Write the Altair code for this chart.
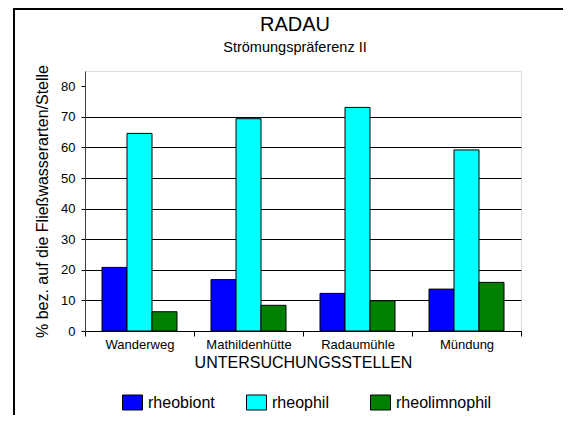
import altair as alt
import pandas as pd

sites = ["Wanderweg", "Mathildenhütte", "Radaumühle", "Mündung"]
groups = ["rheobiont", "rheophil", "rheolimnophil"]
rheobiont = [20.8, 16.8, 12.3, 13.7]
rheophil = [64.6, 69.4, 73.1, 59.2]
rheolimnophil = [6.3, 8.4, 9.9, 15.9]
colors = ["#0000FF", "#00FFFF", "#008000"]
y_ticks = [0, 10, 20, 30, 40, 50, 60, 70, 80]
title_text = "RADAU"
subtitle_text = "Strömungspräferenz II"

rows = []
for i, s in enumerate(sites):
    for g, vals in zip(groups, [rheobiont, rheophil, rheolimnophil]):
        rows.append({"Stelle": s, "Gruppe": g, "Wert": vals[i]})
df = pd.DataFrame(rows)

FONT = "Liberation Sans"

bars = alt.Chart(df).mark_bar(stroke="black", strokeWidth=1).encode(
    x=alt.X("Stelle:N", sort=sites,
            scale=alt.Scale(paddingInner=0, paddingOuter=0),
            axis=alt.Axis(title="UNTERSUCHUNGSSTELLEN", labelAngle=0,
                          tickBand="extent", tickSize=5, tickColor="black",
                          domainColor="black", labelPadding=2,
                          labelFontSize=13, labelFont=FONT, labelColor="black",
                          titleFontSize=16, titleFont=FONT, titleFontWeight="normal",
                          titleColor="black", titleBaseline="alphabetic",
                          titleY=36, titleX=218, grid=False)),
    xOffset=alt.XOffset("Gruppe:N", sort=groups,
                        scale=alt.Scale(paddingInner=0, paddingOuter=0.68)),
    y=alt.Y("Wert:Q",
            scale=alt.Scale(domain=[0, 85], nice=False, zero=True),
            axis=alt.Axis(title="% bez. auf die Fließwasserarten/Stelle",
                          values=y_ticks, tickSize=4, tickColor="black",
                          domainColor="#404040", labelPadding=6,
                          labelFontSize=13, labelFont=FONT, labelColor="black",
                          titleFontSize=16, titleFont=FONT, titleFontWeight="normal",
                          titleColor="black", titleAngle=-90,
                          titleBaseline="alphabetic", titleAlign="center",
                          titleX=-38, titleY=130,
                          grid=True, gridColor="black", gridWidth=1,
                          gridOpacity={"condition": {"test": "datum.value === 80", "value": 0}, "value": 1})),
    color=alt.Color("Gruppe:N", sort=groups,
                    scale=alt.Scale(domain=groups, range=colors),
                    legend=alt.Legend(title=None, orient="none", direction="horizontal",
                                      columns=3, gridAlign="all", columnPadding=0,
                                      legendX=37, legendY=321, padding=0,
                                      symbolType="M-1,-0.75H1V0.75H-1Z", symbolSize=400,
                                      symbolStrokeColor="black", symbolStrokeWidth=1,
                                      symbolOpacity=1, labelOffset=5,
                                      labelFontSize=16, labelFont=FONT, labelColor="black")),
)

frame_data = pd.DataFrame({"k": [0]})
left_border = alt.Chart(frame_data).mark_rule(color="black", strokeWidth=2).encode(
    x=alt.value(-71), y=alt.value(-62), y2=alt.value(420))
top_border = alt.Chart(frame_data).mark_rule(color="black", strokeWidth=2).encode(
    x=alt.value(-72), x2=alt.value(520), y=alt.value(-62))

title_mark = alt.Chart(frame_data).mark_text(
    text=title_text, font=FONT, fontSize=20, color="black",
    align="center", baseline="alphabetic").encode(
    x=alt.value(210), y=alt.value(-40.5))
subtitle_mark = alt.Chart(frame_data).mark_text(
    text=subtitle_text, font=FONT, fontSize=14.5, color="black",
    align="center", baseline="alphabetic").encode(
    x=alt.value(210), y=alt.value(-19.5))

chart = alt.layer(bars, left_border, top_border, title_mark, subtitle_mark).properties(
    width=436, height=260,
    padding={"left": 77, "top": 63, "right": 42, "bottom": 84},
    autosize=alt.AutoSizeParams(type="none"),
).configure_view(stroke="#808080", strokeWidth=1).configure(background="white")

chart.save("out.html", embed_options={"renderer": "svg", "actions": False})
